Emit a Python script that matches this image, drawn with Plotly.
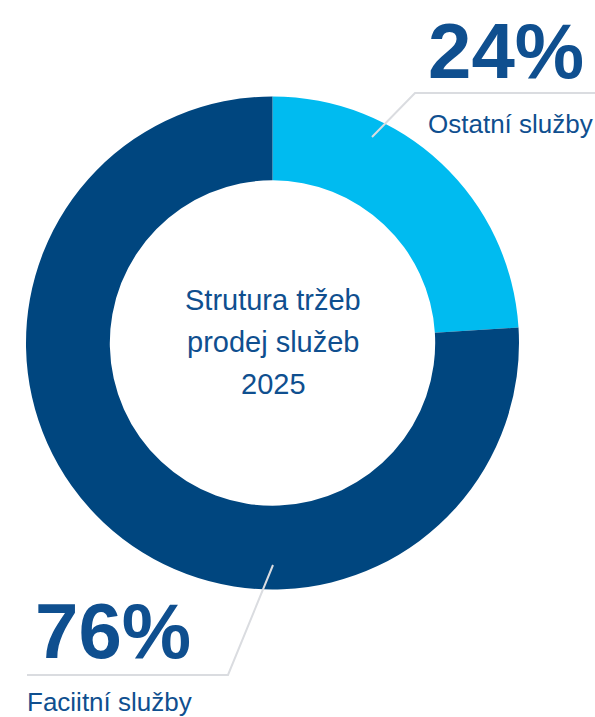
import plotly.graph_objects as go

labels = ["Ostatní služby", "Faciitní služby"]
values = [24, 76]
colors = ["#00BBF0", "#00467F"]
pct_text = ["24%", "76%"]
center_lines = ["Strutura tržeb", "prodej služeb", "2025"]

W, H = 595, 717
def px(x): return x / W
def py(y): return 1 - y / H

cx, cy, r = 272.5, 343, 246.5

fig = go.Figure(go.Pie(
    labels=labels, values=values, hole=0.66, sort=False, direction="clockwise",
    rotation=0, marker=dict(colors=colors, line=dict(width=0)),
    textinfo="none", hoverinfo="label+percent", showlegend=False,
    domain=dict(x=[px(cx - r), px(cx + r)], y=[py(cy + r), py(cy - r)]),
))

line_col = "#DADCE0"
shapes = [
    dict(type="path", xref="paper", yref="paper",
         path=f"M {px(372)} {py(137)} L {px(415)} {py(93)} L {px(595)} {py(93)}",
         line=dict(color=line_col, width=2)),
    dict(type="path", xref="paper", yref="paper",
         path=f"M {px(273)} {py(565)} L {px(228)} {py(675)} L {px(27)} {py(675)}",
         line=dict(color=line_col, width=2)),
]

txt_col = "#0F4F8F"
font_family = "Liberation Sans, Arial, sans-serif"
ann = [
    dict(text=f"<b>{pct_text[0]}</b>", x=px(426), y=py(51), xanchor="left", yanchor="middle",
         font=dict(size=78, color=txt_col, family=font_family)),
    dict(text=labels[0], x=px(426), y=py(124), xanchor="left", yanchor="middle",
         font=dict(size=26, color=txt_col, family=font_family)),
    dict(text=f"<b>{pct_text[1]}</b>", x=px(33), y=py(631), xanchor="left", yanchor="middle",
         font=dict(size=78, color=txt_col, family=font_family)),
    dict(text=labels[1], x=px(25), y=py(702), xanchor="left", yanchor="middle",
         font=dict(size=26, color=txt_col, family=font_family)),
]
for i, t in enumerate(center_lines):
    ann.append(dict(text=t, x=px(273), y=py(300 + 42 * i), xanchor="center", yanchor="middle",
                    font=dict(size=29, color=txt_col, family=font_family)))
for a in ann:
    a.update(xref="paper", yref="paper", showarrow=False)

fig.update_layout(
    width=W, height=H, margin=dict(l=0, r=0, t=0, b=0),
    paper_bgcolor="white", plot_bgcolor="white",
    shapes=shapes, annotations=ann,
)
fig.write_html("out.html", config={"displayModeBar": False},
               post_script="document.body.style.margin='0';document.body.style.overflow='hidden';")
